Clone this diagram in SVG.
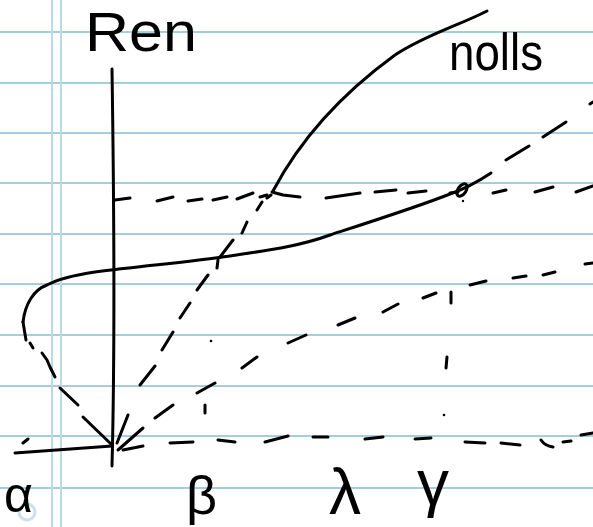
<svg xmlns="http://www.w3.org/2000/svg" width="593" height="527" viewBox="0 0 593 527">
<style>
.rule{stroke:#a3cfdc;stroke-width:2;fill:none}
.margin{stroke:#b9dbe6;stroke-width:2;fill:none}
.ink{stroke:#000;stroke-width:3;fill:none;stroke-linecap:round;stroke-linejoin:round}
.lbl{font-family:"Liberation Sans","DejaVu Sans",sans-serif;fill:#000}
</style>
<rect width="593" height="527" fill="#fff"/>
<g id="paper">
<path class="rule" d="M0,32H593M0,83H593M0,133H593M0,183H593M0,234H593M0,284H593M0,335H593M0,386H593M0,436H593M0,488H593"/>
<path class="margin" d="M52,0V527M61,0V527"/>
<circle cx="27" cy="512" r="8" fill="none" stroke="#cfe0ea" stroke-width="3"/>
</g>
<g id="axes">
<path class="ink" d="M112,69 C114,200 115,350 112,466"/>
<path class="ink" d="M15,453 L112,446"/>
</g>
<g id="curves">
<path id="nolls-curve" class="ink" d="M273,191 C300,140 340,95 395,55 C425,35 460,25 487,11"/>
<path class="ink" d="M272,192 L283,195 L300,197"/>
<path id="s-curve" class="ink" d="M23,322 C25,305 33,290 47,285 C60,278 75,275 95,272 C140,266 190,262 230,256 C270,250 300,246 330,235 C370,222 420,206 450,194 C470,187 482,179 491,173"/>
<ellipse id="node" cx="462" cy="190" rx="4" ry="7" transform="rotate(35 462 190)" class="ink"/>
<circle cx="463" cy="201" r="1.2" fill="#000"/>
</g>
<g id="connectors">
<path class="ink" d="M23,322 L26,340 M30,343 L33,348 M42,353 L47,360 L50,367 L55,377 M60,388 L78,405 M83,417 L111,444"/>
<path class="ink" d="M117,443 L128,415 M118,450 L143,428 M123,450 L143,446"/>
<path class="ink" d="M140,385 L155,366 M162,350 L173,332 M180,318 L190,303 M197,290 L208,275 M220,257 L233,240 M242,233 L247,222 M257,210 L262,202 M267,198 L271,195"/>
<path class="ink" d="M115,200 L130,198 M157,201 L173,197 M188,201 L202,199 M213,200 L227,197 M237,199 L253,193 M260,197 L267,195 M326,198 L360,193 M375,192 L396,190 M408,193 L426,191 M450,193 L458,192 M493,193 L506,190 M535,192 L553,187 M576,192 L593,186"/>
<path class="ink" d="M506,160 L529,146 M543,137 L566,122 M590,104 L593,102"/>
<path class="ink" d="M155,418 L173,405 M197,393 L215,383 M242,368 L257,357 M288,343 L306,335 M338,325 L355,318 M383,312 L398,304 M423,298 L436,293 M470,285 L486,281 M513,278 L526,276 M543,275 L555,272 M585,264 L593,263"/>
<path class="ink" d="M23,443 L28,439 M170,443 L193,442 M218,440 L235,442 M265,442 L288,436 M313,437 L328,437 M365,439 L383,437 M415,439 L431,438 M465,442 L485,443 M501,443 L520,445 M541,440 Q545,446 553,447 M563,442 L571,441 M581,435 L593,433"/>
<path class="ink" d="M218,260 L217,268 M205,405 L205,413 M451,292 L451,303 M447,357 L446,368"/>
<circle cx="211" cy="341" r="1.3" fill="#000"/>
<circle cx="444" cy="415" r="1.3" fill="#000"/>
</g>
<g id="labels">
<text class="lbl" x="85" y="51" font-size="56" textLength="112" lengthAdjust="spacingAndGlyphs">Ren</text>
<text class="lbl" x="449" y="70" font-size="52" textLength="94" lengthAdjust="spacingAndGlyphs">nolls</text>
<text class="lbl" x="4" y="512" font-size="50">α</text>
<text class="lbl" x="186" y="514" font-size="54">β</text>
<text class="lbl" x="329" y="514" font-size="64">λ</text>
<text class="lbl" x="417" y="505" font-size="64">γ</text>
</g>
</svg>
